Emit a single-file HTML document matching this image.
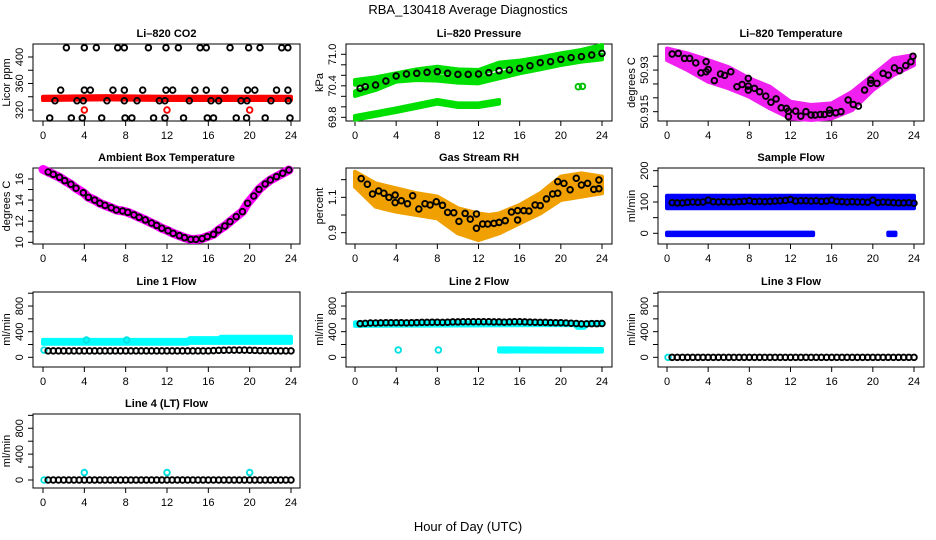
<!DOCTYPE html>
<html><head><meta charset="utf-8"><style>
html,body{margin:0;padding:0;background:#fff;}
svg{display:block;font-family:"Liberation Sans",sans-serif;}
</style></head><body>
<svg id="chart" width="936" height="540" viewBox="0 0 936 540">
<text x="468" y="14" text-anchor="middle" font-size="13">RBA_130418  Average Diagnostics</text>
<text x="468" y="531" text-anchor="middle" font-size="13">Hour of Day (UTC)</text>
</svg>
<script>
// ---------- DATA ----------
const halfHours = [0.5,1,1.5,2,2.5,3,3.5,4,4.5,5,5.5,6,6.5,7,7.5,8,8.5,9,9.5,10,10.5,11,11.5,12,12.5,13,13.5,14,14.5,15,15.5,16,16.5,17,17.5,18,18.5,19,19.5,20,20.5,21,21.5,22,22.5,23,23.5,24];
const xTicks = [0,4,8,12,16,20,24];

// CO2
const co2X = [2.26,4.0,5.16,7.23,7.87,10.2,11.9,13.1,15.2,15.8,18.1,19.9,21.0,23.1,23.7,
  1.71,4.0,4.58,6.77,7.87,9.65,11.9,12.55,14.7,15.8,17.6,19.8,20.5,22.6,23.7,
  1.16,3.29,3.9,6.19,7.87,9.1,11.26,11.8,14.16,16.26,17.0,19.16,19.74,22.06,23.74,
  0.65,2.74,3.8,5.68,7.94,8.6,10.7,11.8,13.6,15.9,16.5,18.7,19.7,21.5,23.9];
const co2Y = [414,414,414,414,414,414,414,414,414,414,414,414,414,414,414,
  350,350,350,350,350,350,350,350,350,350,350,350,350,350,350,
  334,334,334,334,334,334,334,334,334,334,334,334,334,334,334,
  308,308,308,308,308,308,308,308,308,308,308,308,308,308,308];
const co2BandX = [0,6,12,18,24];
const co2BandHi = [340,341,340,340,340];
const co2BandLo = [335,336,335,335,335];
const co2RedX = [4,12,20];
const co2RedY = [320,320,320];

// Pressure
const pBandX = [0,2,4,6,8,10,12,14,16,18,20,22,24];
const pTopHi = [70.510,70.561,70.638,70.714,70.764,70.714,70.701,70.841,70.879,70.942,71.018,71.082,71.177];
const pTopLo = [70.420,70.471,70.548,70.624,70.674,70.624,70.611,70.751,70.789,70.852,70.928,70.992,71.087];
const pMidHi = [70.296,70.41,70.569,70.600,70.588,70.550,70.537,70.632,70.728,70.804,70.886,70.950,70.994];
const pMidLo = [70.206,70.32,70.479,70.510,70.498,70.460,70.447,70.542,70.638,70.714,70.796,70.860,70.904];
const pLowX = [0,4,8,10,12,14];
const pLowHi = [69.825,69.971,70.130,70.066,70.066,70.130];
const pLowLo = [69.755,69.901,70.060,69.996,69.996,70.060];
const pDotX = [21.7,22.1];
const pDotY = [70.383,70.39];
const pBlackX = [0.5,1,2,3,4,5,6,7,8,9,10,11,12,13,14,15,16,17,18,19,20,21,22,23,24];
const pBlackY = [70.352,70.383,70.415,70.491,70.587,70.625,70.638,70.657,70.669,70.638,70.618,70.618,70.625,70.650,70.688,70.701,70.733,70.783,70.841,70.860,70.904,70.936,70.955,70.986,71.018];

// Li-820 temperature
const tBandX = [0,2,4,6,8,10,12,14,16,18,20,22,24];
const tBandHi = [50.9378,50.936,50.9336,50.931,50.927,50.924,50.9186,50.9174,50.918,50.9222,50.9282,50.9342,50.9354];
const tBandLo = [50.9336,50.930,50.9258,50.9234,50.9204,50.9162,50.9126,50.912,50.9126,50.9156,50.9228,50.9282,50.9318];
const tBlackX = [0.5,1.1,1.7,2.2,2.8,3.3,3.8,3.8,4,4.6,5.2,5.6,6.2,6.8,7.3,7.9,7.9,7.9,8.5,9,9.6,10.1,10.6,11.1,11.6,11.8,11.8,12.5,13,13.5,14,14.4,14.9,15.3,15.8,15.8,16.4,16.9,17.6,18.1,18.6,19.2,19.8,19.8,20.4,21,21.5,22.1,22.6,23.2,23.7,23.9];
const tBlackY = [50.9358,50.936,50.9342,50.9342,50.9326,50.929,50.9294,50.933,50.9302,50.9262,50.9286,50.9281,50.9294,50.924,50.9248,50.9242,50.9228,50.927,50.9234,50.9222,50.9206,50.9184,50.9196,50.9164,50.9162,50.9152,50.9132,50.9152,50.9134,50.915,50.9138,50.9138,50.914,50.914,50.9156,50.9144,50.9146,50.915,50.9192,50.9176,50.917,50.9228,50.9264,50.9252,50.9252,50.9288,50.9282,50.9308,50.9298,50.9316,50.933,50.935];

// Ambient box temperature
const aBandX = [0,0.5,1,1.6,2.1,2.7,3.2,3.9,4.4,5,5.5,6,6.6,7.1,7.7,8.2,8.8,9.3,9.9,10.5,11,11.5,12.1,12.6,13.2,13.7,14.3,14.8,15.4,15.9,16.5,17,17.6,18.1,18.7,19.3,19.8,20.4,20.9,21.5,22,22.6,23.2,23.8];
const aBandY = [16.9,16.66,16.44,16.16,15.84,15.5,15.12,14.7,14.26,14.0,13.7,13.5,13.28,13.06,12.97,12.84,12.6,12.37,12.12,11.83,11.6,11.33,11.1,10.85,10.63,10.44,10.28,10.28,10.35,10.54,10.76,11.17,11.55,11.96,12.43,12.91,13.7,14.39,15.02,15.53,15.9,16.22,16.54,16.85];

// Gas stream RH
const rhBandX = [0,2,4,6,8,10,12,13,14,16,18,20,22,24];
const rhBandHi = [1.245,1.179,1.151,1.123,1.104,1.038,1.009,1.0,1.009,1.057,1.123,1.217,1.236,1.217];
const rhBandLo = [1.160,1.047,1.019,1.0,0.981,0.896,0.858,0.877,0.896,0.953,1.009,1.085,1.104,1.123];
const rhBlackX = [0.6,1.2,1.7,2.3,2.8,3.3,3.9,3.9,4.5,5.1,5.6,6.2,6.8,7.3,7.9,8.5,9,9.6,10.1,10.7,11.2,11.8,11.8,12.4,12.9,13.5,14.0,14.6,15.2,15.8,15.8,16.4,16.9,17.5,18.0,18.6,19.2,19.7,19.7,20.3,20.9,21.5,22,22.6,23.2,23.7,23.7];
const rhBlackY = [1.206,1.174,1.119,1.136,1.123,1.10,1.113,1.07,1.081,1.064,1.109,1.034,1.064,1.057,1.075,1.055,1.015,1.013,0.964,1.009,0.977,1.006,0.925,0.949,0.949,0.953,0.958,0.968,1.017,1.025,0.972,1.025,1.023,1.057,1.053,1.091,1.119,1.189,1.123,1.179,1.143,1.208,1.17,1.179,1.145,1.198,1.149];

// Sample flow
const sfBandX = [0,24];
const sfBandHi = [120,120];
const sfBandLo = [80,80];
const sfZeroX = [0,14.2];
const sfZeroX2 = [21.5,22.2];
const sfZeroHi = [2,2];
const sfZeroLo = [-6,-6];
const sfBlack = [98,97,97,99,100,99,100,106,101,100,101,100,100,101,102,104,101,102,101,102,103,104,105,108,103,104,104,103,104,102,103,106,102,101,100,101,100,100,99,106,98,100,99,98,97,97,98,96];

// Line flows
const l1Black = [100,100,100,100,100,100,100,100,100,100,100,100,100,100,100,100,100,100,100,100,100,100,100,100,100,100,100,100,100,100,100,100,105,108,110,112,112,112,112,110,108,105,104,102,100,100,100,100];
const l1BandX = [0,14,14.2,17,17.2,24];
const l1BandHi = [272,272,300,300,320,320];
const l1BandLo = [212,212,226,226,226,226];
const l1DotX = [0.1,4.2,8.1];
const l1DotY = [113,270,270];
const l2Black = [525,530,535,535,538,540,540,540,540,538,540,542,545,545,548,548,545,548,552,552,555,555,555,555,555,555,552,552,550,552,555,555,552,550,548,545,545,542,540,540,535,532,528,522,522,525,525,528];
const l2BandX = [0,21.3,21.6,22.3,22.6,24];
const l2BandHi = [545,545,540,540,545,545];
const l2BandLo = [490,505,460,460,505,505];
const l2LowX = [14,24];
const l2LowHi = [140,130];
const l2LowLo = [90,88];
const l2DotX = [4.2,8.1];
const l2DotY = [115,115];
const l3Black = [0,0,0,0,0,0,0,0,0,0,0,0,0,0,0,0,0,0,0,0,0,0,0,0,0,0,0,0,0,0,0,0,0,0,0,0,0,0,0,0,0,0,0,0,0,0,0,0];
const l3DotX = [0.1];
const l3DotY = [0];
const l4Black = [0,0,0,0,0,0,0,0,0,0,0,0,0,0,0,0,0,0,0,0,0,0,0,0,0,0,0,0,0,0,0,0,0,0,0,0,0,0,0,0,0,0,0,0,0,0,0,0];
const l4DotX = [0.1,4,12,20];
const l4DotY = [0,115,115,115];

// ---------- DRAWING ----------
const NS = "http://www.w3.org/2000/svg";
const svg = document.getElementById('chart');
function mk(tag, attrs, parent) {
  const e = document.createElementNS(NS, tag);
  for (const k in attrs) e.setAttribute(k, attrs[k]);
  (parent || svg).appendChild(e);
  return e;
}
const cols = [{l:33,r:300,x0:43,x24:291},{l:346,r:612,x0:355,x24:602},{l:658,r:924,x0:667,x24:914}];
const rows = [{t:44,b:121},{t:168,b:244},{t:292,b:367},{t:414,b:488}];

function makePanel(name, title, ytitle, c, r, ylim, yticks, ylabels) {
  const C = cols[c], R = rows[r];
  const g = mk('g', {});
  
  
  const sx = h => C.x0 + h / 24 * (C.x24 - C.x0);
  const sy = v => R.b - (v - ylim[0]) / (ylim[1] - ylim[0]) * (R.b - R.t);
  const t = mk('text', {x:(C.l + C.r) / 2, y:R.t - 7, 'text-anchor':'middle', 'font-size':11, 'font-weight':'bold'}, g);
  t.textContent = title;
  
  
  const box = mk('rect', {x:C.l, y:R.t, width:C.r - C.l, height:R.b - R.t, fill:'none', stroke:'#000', 'stroke-width':1}, g);
  
  
  const xa = mk('g', {}, g);
  
  
  xTicks.forEach(h => {
    mk('line', {x1:sx(h), x2:sx(h), y1:R.b, y2:R.b + 5, stroke:'#000'}, xa);
    const tl = mk('text', {x:sx(h), y:R.b + 18, 'text-anchor':'middle', 'font-size':11}, xa);
    tl.textContent = h;
    
    
  });
  const ya = mk('g', {}, g);
  
  
  yticks.forEach(v => {
    mk('line', {x1:C.l - 5, x2:C.l, y1:sy(v), y2:sy(v), stroke:'#000'}, ya);
  });
  ylabels.forEach(v => {
    const yl = mk('text', {x:0, y:0, 'text-anchor':'middle', 'font-size':11, transform:'translate(' + (C.l - 10) + ',' + sy(v) + ') rotate(-90)'}, ya);
    yl.textContent = String(v).length < 4 && v % 1 !== 0 ? v.toFixed(1) : (v === 71 ? '71.0' : v);
    
    
  });
  const yt = mk('text', {x:0, y:0, 'text-anchor':'middle', 'font-size':11, transform:'translate(' + (C.l - 23) + ',' + ((R.t + R.b) / 2) + ') rotate(-90)'}, g);
  yt.textContent = ytitle;
  
  
  const plot = mk('g', {}, g);
  return {g:plot, sx, sy};
}
function band(P, xs, hi, lo, color) {
  let pts = xs.map((h, i) => P.sx(h) + ',' + P.sy(hi[i]));
  for (let i = xs.length - 1; i >= 0; i--) pts.push(P.sx(xs[i]) + ',' + P.sy(lo[i]));
  const p = mk('polygon', {points:pts.join(' '), fill:color, stroke:color, 'stroke-width':4, 'stroke-linejoin':'round'}, P.g);
  
  
}
function thickLine(P, xs, ys, color, w) {
  const p = mk('polyline', {points:xs.map((h, i) => P.sx(h) + ',' + P.sy(ys[i])).join(' '), fill:'none', stroke:color, 'stroke-width':w, 'stroke-linecap':'round', 'stroke-linejoin':'round'}, P.g);
  
  
}
function points(P, xs, ys, color, nm) {
  xs.forEach((h, i) => {
    const c = mk('circle', {cx:P.sx(h), cy:P.sy(ys[i]), r:2.8, fill:'none', stroke:color, 'stroke-width':1.9}, P.g);
    
    
  });
}

// Row 1
let P = makePanel('co2-panel', 'Li\u2013820 CO2', 'Licor ppm', 0, 0, [303.4, 419.6], [320,340,360,380,400], [320,360,400]);
band(P, co2BandX, co2BandHi, co2BandLo, '#ff0000');
points(P, co2RedX, co2RedY, '#ff0000', 'co2-raw-point');
points(P, co2X, co2Y, '#000', 'co2-average-point');

P = makePanel('pressure-panel', 'Li\u2013820 Pressure', 'kPa', 1, 0, [69.730, 71.196], [69.8,70.0,70.2,70.4,70.6,70.8,71.0], [69.8,70.4,71.0]);
band(P, pBandX, pTopHi, pTopLo, '#00e000');
band(P, pBandX, pMidHi, pMidLo, '#00e000');
band(P, pLowX, pLowHi, pLowLo, '#00e000');
points(P, pDotX, pDotY, '#00c000', 'pressure-raw-point');
points(P, pBlackX, pBlackY, '#000', 'pressure-average-point');

P = makePanel('li820-temperature-panel', 'Li\u2013820 Temperature', 'degrees C', 2, 0, [50.91164, 50.9394], [50.915,50.920,50.925,50.930,50.935], [50.915,50.93]);
band(P, tBandX, tBandHi, tBandLo, '#f020f0');
points(P, tBlackX, tBlackY, '#000', 'temperature-average-point');

// Row 2
P = makePanel('ambient-temperature-panel', 'Ambient Box Temperature', 'degrees C', 0, 1, [9.84, 17.04], [10,11,12,13,14,15,16], [10,12,14,16]);
thickLine(P, aBandX, aBandY, '#ff00ff', 9);
points(P, aBandX.slice(1), aBandY.slice(1), '#000', 'ambient-average-point');

P = makePanel('rh-panel', 'Gas Stream RH', 'percent', 1, 1, [0.836, 1.266], [0.9,1.0,1.1,1.2], [0.9,1.1]);
band(P, rhBandX, rhBandHi, rhBandLo, '#f0a000');
points(P, rhBlackX, rhBlackY, '#000', 'rh-average-point');

P = makePanel('sample-flow-panel', 'Sample Flow', 'ml/min', 2, 1, [-34.2, 208.6], [0,50,100,150,200], [0,100,200]);
band(P, sfBandX, sfBandHi, sfBandLo, '#0000ff');
band(P, sfZeroX, sfZeroHi, sfZeroLo, '#0000ff');
band(P, sfZeroX2, sfZeroHi, sfZeroLo, '#0000ff');
points(P, halfHours, sfBlack, '#000', 'sample-flow-average-point');

// Row 3
P = makePanel('line1-flow-panel', 'Line 1 Flow', 'ml/min', 0, 2, [-151, 1019], [0,200,400,600,800,1000], [0,400,800]);
band(P, l1BandX, l1BandHi, l1BandLo, '#00ffff');
points(P, l1DotX, l1DotY, '#00e0e0', 'line1-raw-point');
points(P, halfHours, l1Black, '#000', 'line1-average-point');

P = makePanel('line2-flow-panel', 'Line 2 Flow', 'ml/min', 1, 2, [-151, 1019], [0,200,400,600,800,1000], [0,400,800]);
band(P, l2BandX, l2BandHi, l2BandLo, '#00ffff');
band(P, l2LowX, l2LowHi, l2LowLo, '#00ffff');
points(P, l2DotX, l2DotY, '#00e0e0', 'line2-raw-point');
points(P, halfHours, l2Black, '#000', 'line2-average-point');

P = makePanel('line3-flow-panel', 'Line 3 Flow', 'ml/min', 2, 2, [-151, 1019], [0,200,400,600,800,1000], [0,400,800]);
points(P, l3DotX, l3DotY, '#00e0e0', 'line3-raw-point');
points(P, halfHours, l3Black, '#000', 'line3-average-point');

// Row 4
P = makePanel('line4-flow-panel', 'Line 4 (LT) Flow', 'ml/min', 0, 3, [-124, 1021], [0,200,400,600,800,1000], [0,400,800]);
points(P, l4DotX, l4DotY, '#00e0e0', 'line4-raw-point');
points(P, halfHours, l4Black, '#000', 'line4-average-point');
</script>
</body></html>
